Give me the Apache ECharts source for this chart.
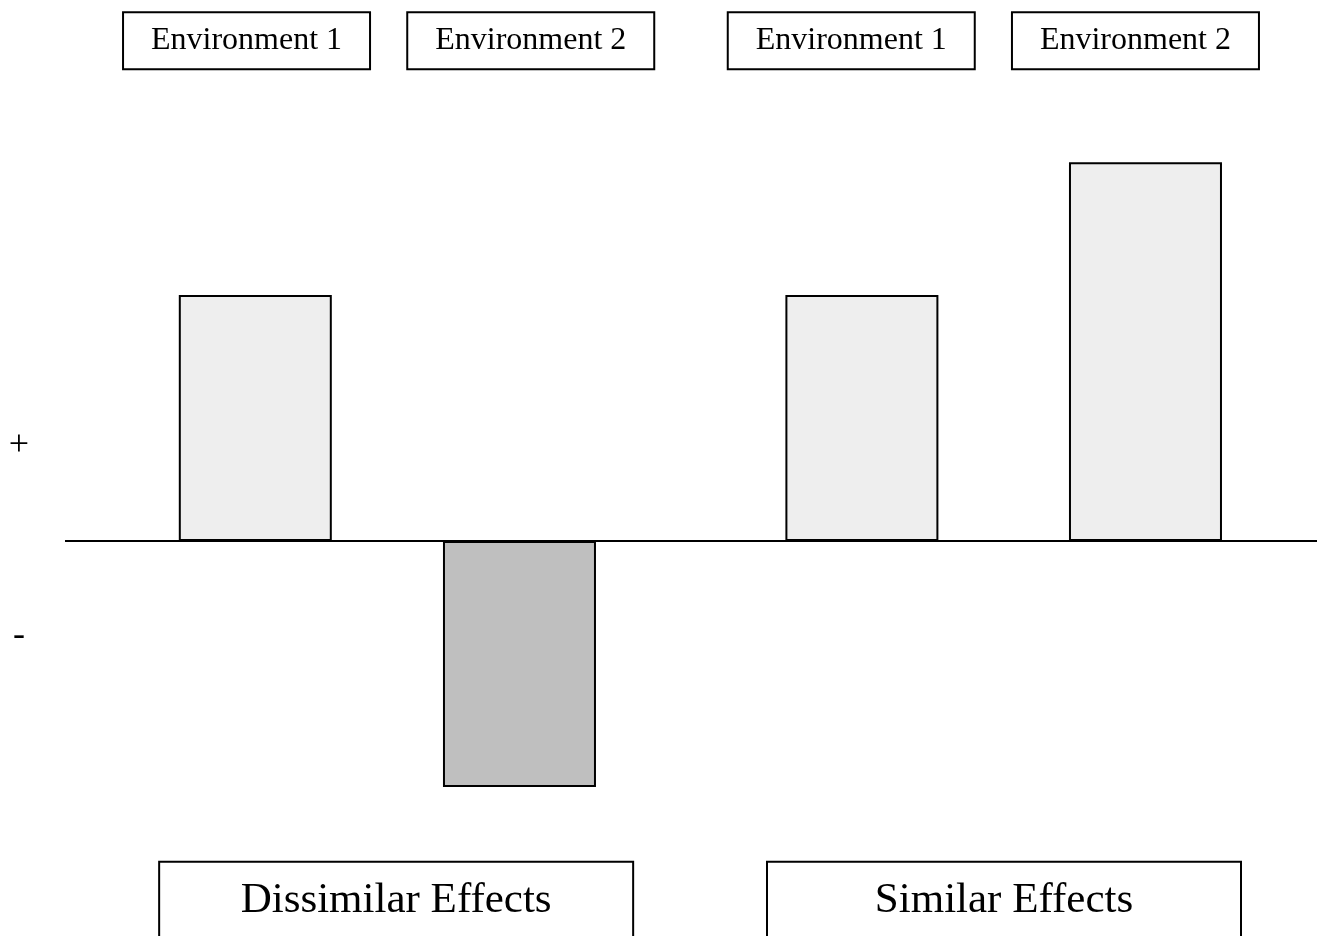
<!DOCTYPE html>
<html>
<head>
<meta charset="utf-8">
<script src="https://cdn.jsdelivr.net/npm/echarts@6/dist/echarts.min.js"></script>
<style>
  html, body { margin: 0; padding: 0; background: #fff; }
  #chart { width: 1319px; height: 936px; }
</style>
</head>
<body>
<div id="chart"></div>
<script>
  // bar positions on the x axis (0..10) and effect sizes
  const barPos = [1.52, 3.63, 6.365, 8.63];
  const barVals = [1, -1, 1, 1.54];

  // environment labels on top, effect groups at the bottom
  const envLabels = ['Environment 1', 'Environment 2', 'Environment 1', 'Environment 2'];
  const envPos = [1.45, 3.72, 6.28, 8.55];
  const effectLabels = ['Dissimilar Effects', 'Similar Effects'];
  const effectPos = [2.645, 7.5];

  // sign markers on the y axis
  const signPos = [0.39, -0.385];
  const signLabels = ['+', '-'];

  const serif = '"Liberation Serif", "Times New Roman", serif';

  const chart = echarts.init(document.getElementById('chart'), null, { renderer: 'canvas' });

  const pick = (arr, pos, v) => {
    let i = pos.findIndex(p => Math.abs(p - v) < 1e-6);
    return i < 0 ? '' : arr[i];
  };

  const option = {
    animation: false,
    grid: {
      left: 65,
      right: 2,
      top: 98.2,
      bottom: 75.2,
      containLabel: false,
      outerBoundsMode: 'none'
    },
    xAxis: [
      {
        type: 'value',
        position: 'bottom',
        min: 0,
        max: 10,
        axisLine: { show: false },
        axisTick: { show: false },
        splitLine: { show: false },
        axisLabel: {
          customValues: effectPos,
          formatter: v => pick(effectLabels, effectPos, v),
          margin: 1,
          fontFamily: serif,
          fontSize: 43,
          color: '#000',
          width: 474,
          height: 78,
          lineHeight: 78,
          align: 'center',
          verticalAlign: 'top',
          borderColor: '#000',
          borderWidth: 2,
          padding: [0, 0, 40, 0]
        }
      },
      {
        type: 'value',
        position: 'top',
        min: 0,
        max: 10,
        axisLine: { show: false },
        axisTick: { show: false },
        splitLine: { show: false },
        axisLabel: {
          customValues: envPos,
          formatter: v => pick(envLabels, envPos, v),
          margin: 29,
          fontFamily: serif,
          fontSize: 32,
          color: '#000',
          width: 247,
          height: 57,
          lineHeight: 57,
          align: 'center',
          borderColor: '#000',
          borderWidth: 2,
          padding: 0
        }
      }
    ],
    yAxis: {
      type: 'value',
      min: -1.3,
      max: 1.8,
      axisLine: { show: false },
      axisTick: { show: false },
      splitLine: { show: false },
      axisLabel: {
        customValues: signPos,
        formatter: v => pick(signLabels, signPos, v),
        margin: 46,
        align: 'center',
        fontFamily: serif,
        fontSize: 36,
        color: '#000'
      }
    },
    series: [
      {
        type: 'bar',
        barWidth: 153,
        data: barPos.map((x, i) => [x, barVals[i]]),
        itemStyle: {
          color: p => (p.value[1] < 0 ? '#bfbfbf' : '#eeeeee'),
          borderColor: '#000',
          borderWidth: 2
        },
        markLine: {
          silent: true,
          symbol: ['none', 'none'],
          label: { show: false },
          lineStyle: { color: '#000', width: 2, type: 'solid' },
          data: [{ yAxis: 0 }]
        }
      }
    ]
  };

  chart.setOption(option);
</script>
</body>
</html>
